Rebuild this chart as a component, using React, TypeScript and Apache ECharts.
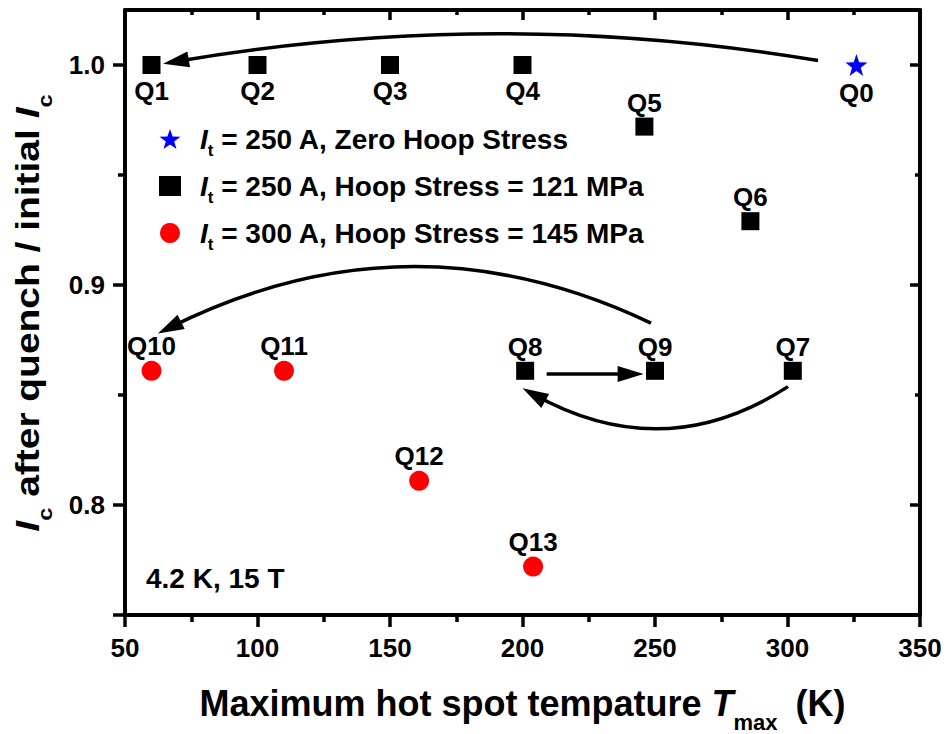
import React, { useEffect, useRef } from 'react';
import * as echarts from 'echarts';

const FONT = '"Liberation Sans", Arial, Helvetica, sans-serif';

// ---------- data ----------
const zeroX = [326];
const zeroY = [1.0];
const zeroLabels = ['Q0'];
const zeroLabelPos = ['bottom'];

const h121X = [60, 100, 150, 200, 246, 286, 302, 201, 250];
const h121Y = [1.0, 1.0, 1.0, 1.0, 0.972, 0.929, 0.861, 0.861, 0.861];
const h121Labels = ['Q1', 'Q2', 'Q3', 'Q4', 'Q5', 'Q6', 'Q7', 'Q8', 'Q9'];
const h121LabelPos = ['bottom', 'bottom', 'bottom', 'bottom', 'top', 'top', 'top', 'top', 'top'];

const h145X = [60, 110, 161, 204];
const h145Y = [0.861, 0.861, 0.811, 0.772];
const h145Labels = ['Q10', 'Q11', 'Q12', 'Q13'];
const h145LabelPos = ['top', 'top', 'top', 'top'];

const seriesNames = ['zero', 'h121', 'h145'];
const legendTexts = [
  '{ip|I}{s|t}{n| = 250 A, Zero Hoop Stress}',
  '{ip|I}{s|t}{n| = 250 A, Hoop Stress = 121 MPa}',
  '{ip|I}{s|t}{n| = 300 A, Hoop Stress = 145 MPa}',
];

// arrows (data coordinates): start, end (arrow-head centre), curveness
const arrowFrom = [
  [311.5, 1.002],
  [248.5, 0.8827],
  [209.1, 0.8595],
  [300.2, 0.8538],
];
const arrowTo = [
  [69.2, 1.0016],
  [66.8, 0.8806],
  [240.8, 0.8595],
  [204.3, 0.8502],
];
const arrowCurve = [-0.085, -0.244, 0, 0.3];

const xMin = 50;
const xMax = 350;
const xTickInterval = 50;
const yMin = 0.75;
const yMax = 1.025;
const yMajorTicks = [0.75, 0.8, 0.9, 1.0];
const yLabelTicks = [0.8, 0.9, 1.0];
const yMinorTicks = [0.85, 0.95];

const annotationText = '4.2 K, 15 T';
const yTitle = '{i|I}{s|c}{n| after quench / initial }{i|I}{s|c}';
const xTitle = '{n|Maximum hot spot tempature }{i|T}{s|max}{n| (K)}';

const STAR =
  'path://M0,-10 L2.35,-3.24 L9.51,-3.09 L3.80,1.24 L5.88,8.09 L0,4 L-5.88,8.09 L-3.80,1.24 L-9.51,-3.09 L-2.35,-3.24 Z';

function buildPoints(xs: number[], ys: number[], labels: string[], pos: string[]) {
  return xs.map((x, i) => ({
    value: [x, ys[i]],
    name: labels[i],
    label: { position: pos[i], distance: pos[i] === 'top' ? 2 : 4 },
  }));
}

function subRich(fs: number, subFs: number, lh: number, extra: any = {}) {
  const pad = Math.max(0, lh / 2 - fs / 2);
  return {
    n: {
      fontFamily: FONT,
      fontWeight: 'bold',
      fontSize: fs,
      lineHeight: lh,
      verticalAlign: 'top',
      padding: [pad, 0, 0, 0],
      color: '#000',
    },
    i: {
      fontFamily: FONT,
      fontWeight: 'bold',
      fontStyle: 'italic',
      fontSize: fs,
      lineHeight: lh,
      verticalAlign: 'top',
      padding: [pad, 0, 0, 0],
      color: '#000',
    },
    ip: {
      fontFamily: FONT,
      fontWeight: 'bold',
      fontStyle: 'italic',
      fontSize: fs,
      lineHeight: lh,
      verticalAlign: 'top',
      padding: [pad, 0, 0, 14],
      color: '#000',
    },
    s: {
      fontFamily: FONT,
      fontWeight: 'bold',
      fontSize: subFs,
      lineHeight: subFs,
      verticalAlign: 'bottom',
      color: '#000',
      ...extra,
    },
  };
}

export default function App() {
  const ref = useRef<HTMLDivElement>(null);

  useEffect(() => {
    if (!ref.current) return;
    const chart = echarts.init(ref.current, undefined, { renderer: 'svg' });

    const axisLineStyle = { color: '#000', width: 4 };
    const tickLine = { width: 3.5, color: '#000' };
    const labelStyle = {
      show: true,
      formatter: '{b}',
      color: '#000',
      fontFamily: FONT,
      fontWeight: 'bold' as const,
      fontSize: 26,
    };

    const xBase = {
      type: 'value' as const,
      min: xMin,
      max: xMax,
      interval: xTickInterval,
      splitLine: { show: false },
      axisLine: { show: true, lineStyle: axisLineStyle },
    };

    const yBase = {
      type: 'value' as const,
      min: yMin,
      max: yMax,
      splitLine: { show: false },
    };

    const option: any = {
      animation: false,
      backgroundColor: '#fff',
      grid: {
        left: 125,
        right: 28,
        top: 10,
        bottom: 119,
        containLabel: false,
        outerBoundsMode: 'none',
      },
      legend: {
        data: seriesNames,
        orient: 'vertical',
        left: 159,
        top: 119,
        padding: 0,
        itemGap: 7,
        itemWidth: 22,
        itemHeight: 20,
        formatter: (name: string) => legendTexts[seriesNames.indexOf(name)],
        textStyle: {
          color: '#000',
          fontFamily: FONT,
          fontWeight: 'bold',
          fontSize: 28,
          rich: subRich(28, 17, 40),
        },
      },
      xAxis: [
        {
          ...xBase,
          position: 'bottom',
          axisTick: { show: true, inside: false, length: 12, lineStyle: tickLine },
          minorTick: { show: true, splitNumber: 2, length: 7, lineStyle: tickLine },
          axisLabel: {
            color: '#000',
            fontFamily: FONT,
            fontWeight: 'bold',
            fontSize: 26,
            margin: 20,
          },
          name: xTitle,
          nameLocation: 'middle',
          nameGap: 58,
          nameTextStyle: {
            color: '#000',
            fontFamily: FONT,
            fontWeight: 'bold',
            fontSize: 36,
            rich: subRich(36, 22, 60, { padding: [0, 8, 0, 0] }),
          },
        },
        {
          ...xBase,
          position: 'top',
          axisTick: { show: true, inside: true, length: 10, lineStyle: tickLine },
          minorTick: { show: true, splitNumber: 2, length: 5, lineStyle: tickLine },
          axisLabel: { show: false },
        },
      ],
      yAxis: [
        {
          ...yBase,
          position: 'left',
          axisLine: { show: true, lineStyle: axisLineStyle },
          axisTick: {
            show: true,
            inside: false,
            length: 12,
            customValues: yMajorTicks,
            lineStyle: tickLine,
          },
          axisLabel: {
            customValues: yLabelTicks,
            formatter: (v: number) => v.toFixed(1),
            color: '#000',
            fontFamily: FONT,
            fontWeight: 'bold',
            fontSize: 26,
            margin: 20,
          },
        },
        {
          ...yBase,
          position: 'left',
          axisLine: { show: false },
          axisTick: {
            show: true,
            inside: false,
            length: 7,
            customValues: yMinorTicks,
            lineStyle: tickLine,
          },
          axisLabel: { show: false },
        },
        {
          ...yBase,
          position: 'right',
          axisLine: { show: true, lineStyle: axisLineStyle },
          axisTick: {
            show: true,
            inside: true,
            length: 10,
            customValues: yLabelTicks,
            lineStyle: tickLine,
          },
          axisLabel: { show: false },
        },
        {
          ...yBase,
          position: 'right',
          axisLine: { show: false },
          axisTick: {
            show: true,
            inside: true,
            length: 5,
            customValues: yMinorTicks,
            lineStyle: tickLine,
          },
          axisLabel: { show: false },
        },
      ],
      graphic: [
        {
          type: 'text',
          left: 146,
          top: 564,
          style: {
            text: annotationText,
            fill: '#000',
            font: `bold 28px ${FONT}`,
          },
        },
        {
          type: 'text',
          x: 28,
          y: 313,
          rotation: Math.PI / 2,
          scaleX: 1.18,
          style: {
            text: yTitle,
            fill: '#000',
            font: `bold 33px ${FONT}`,
            align: 'center',
            verticalAlign: 'middle',
            rich: subRich(33, 20, 54),
          },
        },
      ],
      series: [
        {
          name: 'zero',
          type: 'scatter',
          symbol: STAR,
          symbolSize: 22,
          itemStyle: { color: '#0000ff', opacity: 1 },
          label: labelStyle,
          data: buildPoints(zeroX, zeroY, zeroLabels, zeroLabelPos),
          z: 3,
        },
        {
          name: 'h121',
          type: 'scatter',
          symbol: 'rect',
          symbolSize: 18,
          itemStyle: { color: '#000000', opacity: 1 },
          label: labelStyle,
          data: buildPoints(h121X, h121Y, h121Labels, h121LabelPos),
          z: 3,
        },
        {
          name: 'h145',
          type: 'scatter',
          symbol: 'circle',
          symbolSize: 20,
          itemStyle: { color: '#ff0000', opacity: 1 },
          label: labelStyle,
          data: buildPoints(h145X, h145Y, h145Labels, h145LabelPos),
          z: 3,
        },
        {
          name: 'arrows',
          type: 'lines',
          coordinateSystem: 'cartesian2d',
          xAxisIndex: 0,
          yAxisIndex: 0,
          silent: true,
          symbol: ['none', 'triangle'],
          symbolSize: [1, [16, 26]],
          lineStyle: { color: '#000', width: 3.5, opacity: 1 },
          data: arrowFrom.map((f, i) => ({
            coords: [f, arrowTo[i]],
            lineStyle: { curveness: arrowCurve[i] },
          })),
          z: 2,
        },
      ],
    };

    chart.setOption(option);
    return () => chart.dispose();
  }, []);

  return (
    <div
      ref={ref}
      style={{ position: 'fixed', left: 0, top: 0, width: 948, height: 734, background: '#fff' }}
    />
  );
}
